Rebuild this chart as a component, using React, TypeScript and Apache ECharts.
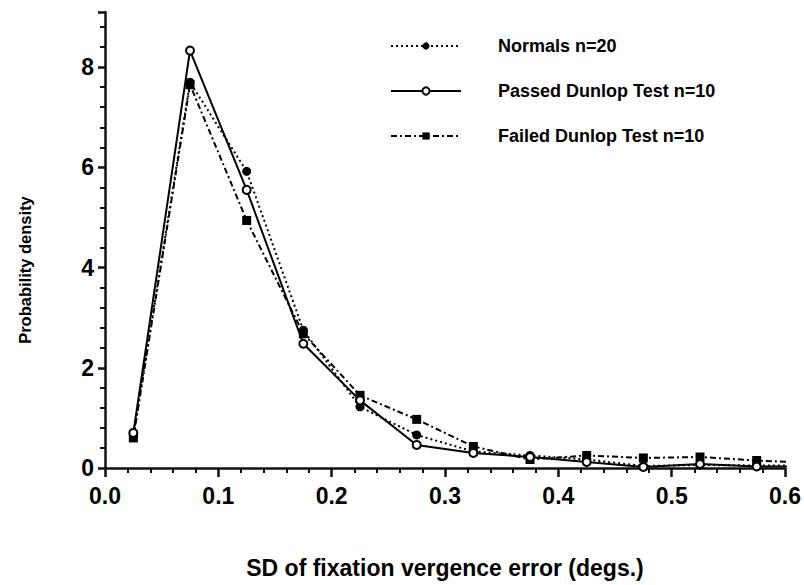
import React, { useEffect, useRef } from "react";
import * as echarts from "echarts";

const xValues = [0.025, 0.075, 0.125, 0.175, 0.225, 0.275, 0.325, 0.375, 0.425, 0.475, 0.525, 0.575, 0.625];
const normals = [0.65, 7.7, 5.92, 2.75, 1.22, 0.66, 0.33, 0.25, 0.17, 0.04, 0.06, 0.05, 0.05];
const passed = [0.7, 8.33, 5.55, 2.48, 1.35, 0.46, 0.3, 0.22, 0.12, 0.02, 0.08, 0.03, 0.03];
const failed = [0.6, 7.65, 4.94, 2.68, 1.45, 0.97, 0.43, 0.17, 0.25, 0.2, 0.22, 0.15, 0.1];
const seriesNames = ["Normals n=20", "Passed Dunlop Test n=10", "Failed Dunlop Test n=10"];
const xTitle = "SD of fixation vergence error (degs.)";
const yTitle = "Probability density";

const FONT = "'Liberation Sans', Arial, Helvetica, sans-serif";
const INK = "#000";
const AXIS_INK = "#111111";

function pairs(ys: number[]) {
  return xValues.map((x, i) => [x, ys[i]]);
}

export default function App() {
  const ref = useRef<HTMLDivElement>(null);
  useEffect(() => {
    if (!ref.current) return;
    const chart = echarts.init(ref.current, undefined, { renderer: "svg" });
    chart.setOption({
      animation: false,
      backgroundColor: "#ffffff",
      grid: { left: 105, right: 18, top: 12, bottom: 117 },
      legend: {
        orient: "vertical",
        left: 385,
        top: 32,
        itemWidth: 70,
        itemHeight: 9,
        itemGap: 27,
        data: seriesNames,
        textStyle: {
          fontFamily: FONT,
          fontWeight: "bold",
          fontSize: 18,
          color: INK,
          lineHeight: 18,
          padding: [0, 0, 0, 32],
        },
      },
      xAxis: {
        type: "value",
        min: 0,
        max: 0.6,
        interval: 0.1,
        name: xTitle,
        nameLocation: "middle",
        nameGap: 88,
        nameTextStyle: { fontFamily: FONT, fontWeight: "bold", fontSize: 23, color: INK },
        axisLine: { show: true, lineStyle: { color: AXIS_INK, width: 2.5 } },
        axisTick: { show: true, length: 9, lineStyle: { color: AXIS_INK, width: 2.5 } },
        minorTick: { show: true, splitNumber: 5, length: 5, lineStyle: { color: AXIS_INK, width: 2 } },
        splitLine: { show: false },
        axisLabel: {
          formatter: (v: number) => v.toFixed(1),
          fontFamily: FONT,
          fontWeight: "bold",
          fontSize: 23,
          color: INK,
          margin: 16,
        },
      },
      yAxis: {
        type: "value",
        min: 0,
        max: 9.1,
        interval: 2,
        name: yTitle,
        nameLocation: "middle",
        nameGap: 72,
        nameRotate: 90,
        nameTextStyle: {
          fontFamily: FONT,
          fontWeight: "bold",
          fontSize: 16.5,
          color: INK,
          padding: [0, 60, 0, 0],
        },
        axisLine: { show: true, lineStyle: { color: AXIS_INK, width: 2.5 } },
        axisTick: { show: true, length: 7, lineStyle: { color: AXIS_INK, width: 2.5 } },
        minorTick: { show: true, splitNumber: 5, length: 5, lineStyle: { color: AXIS_INK, width: 2 } },
        splitLine: { show: false },
        axisLabel: {
          showMaxLabel: false,
          fontFamily: FONT,
          fontWeight: "bold",
          fontSize: 23,
          color: INK,
          margin: 11,
        },
      },
      series: [
        {
          name: seriesNames[0],
          type: "line",
          data: pairs(normals),
          symbol: "circle",
          symbolSize: 9,
          color: INK,
          itemStyle: { color: INK },
          lineStyle: { color: INK, width: 2, type: [2, 3] },
          clip: true,
          z: 3,
        },
        {
          name: seriesNames[1],
          type: "line",
          data: pairs(passed),
          symbol: "emptyCircle",
          symbolSize: 8,
          color: INK,
          itemStyle: { color: INK, borderColor: INK, borderWidth: 1.5 },
          lineStyle: { color: INK, width: 2, type: "solid" },
          clip: true,
          z: 4,
        },
        {
          name: seriesNames[2],
          type: "line",
          data: pairs(failed),
          symbol: "rect",
          symbolSize: 9,
          color: INK,
          itemStyle: { color: INK },
          lineStyle: { color: INK, width: 2, type: [6, 3, 2, 3] },
          clip: true,
          z: 2,
        },
      ],
    });
    return () => chart.dispose();
  }, []);
  return (
    <div
      ref={ref}
      style={{ position: "fixed", left: 0, top: 0, width: 804, height: 585, background: "#fff" }}
    />
  );
}
